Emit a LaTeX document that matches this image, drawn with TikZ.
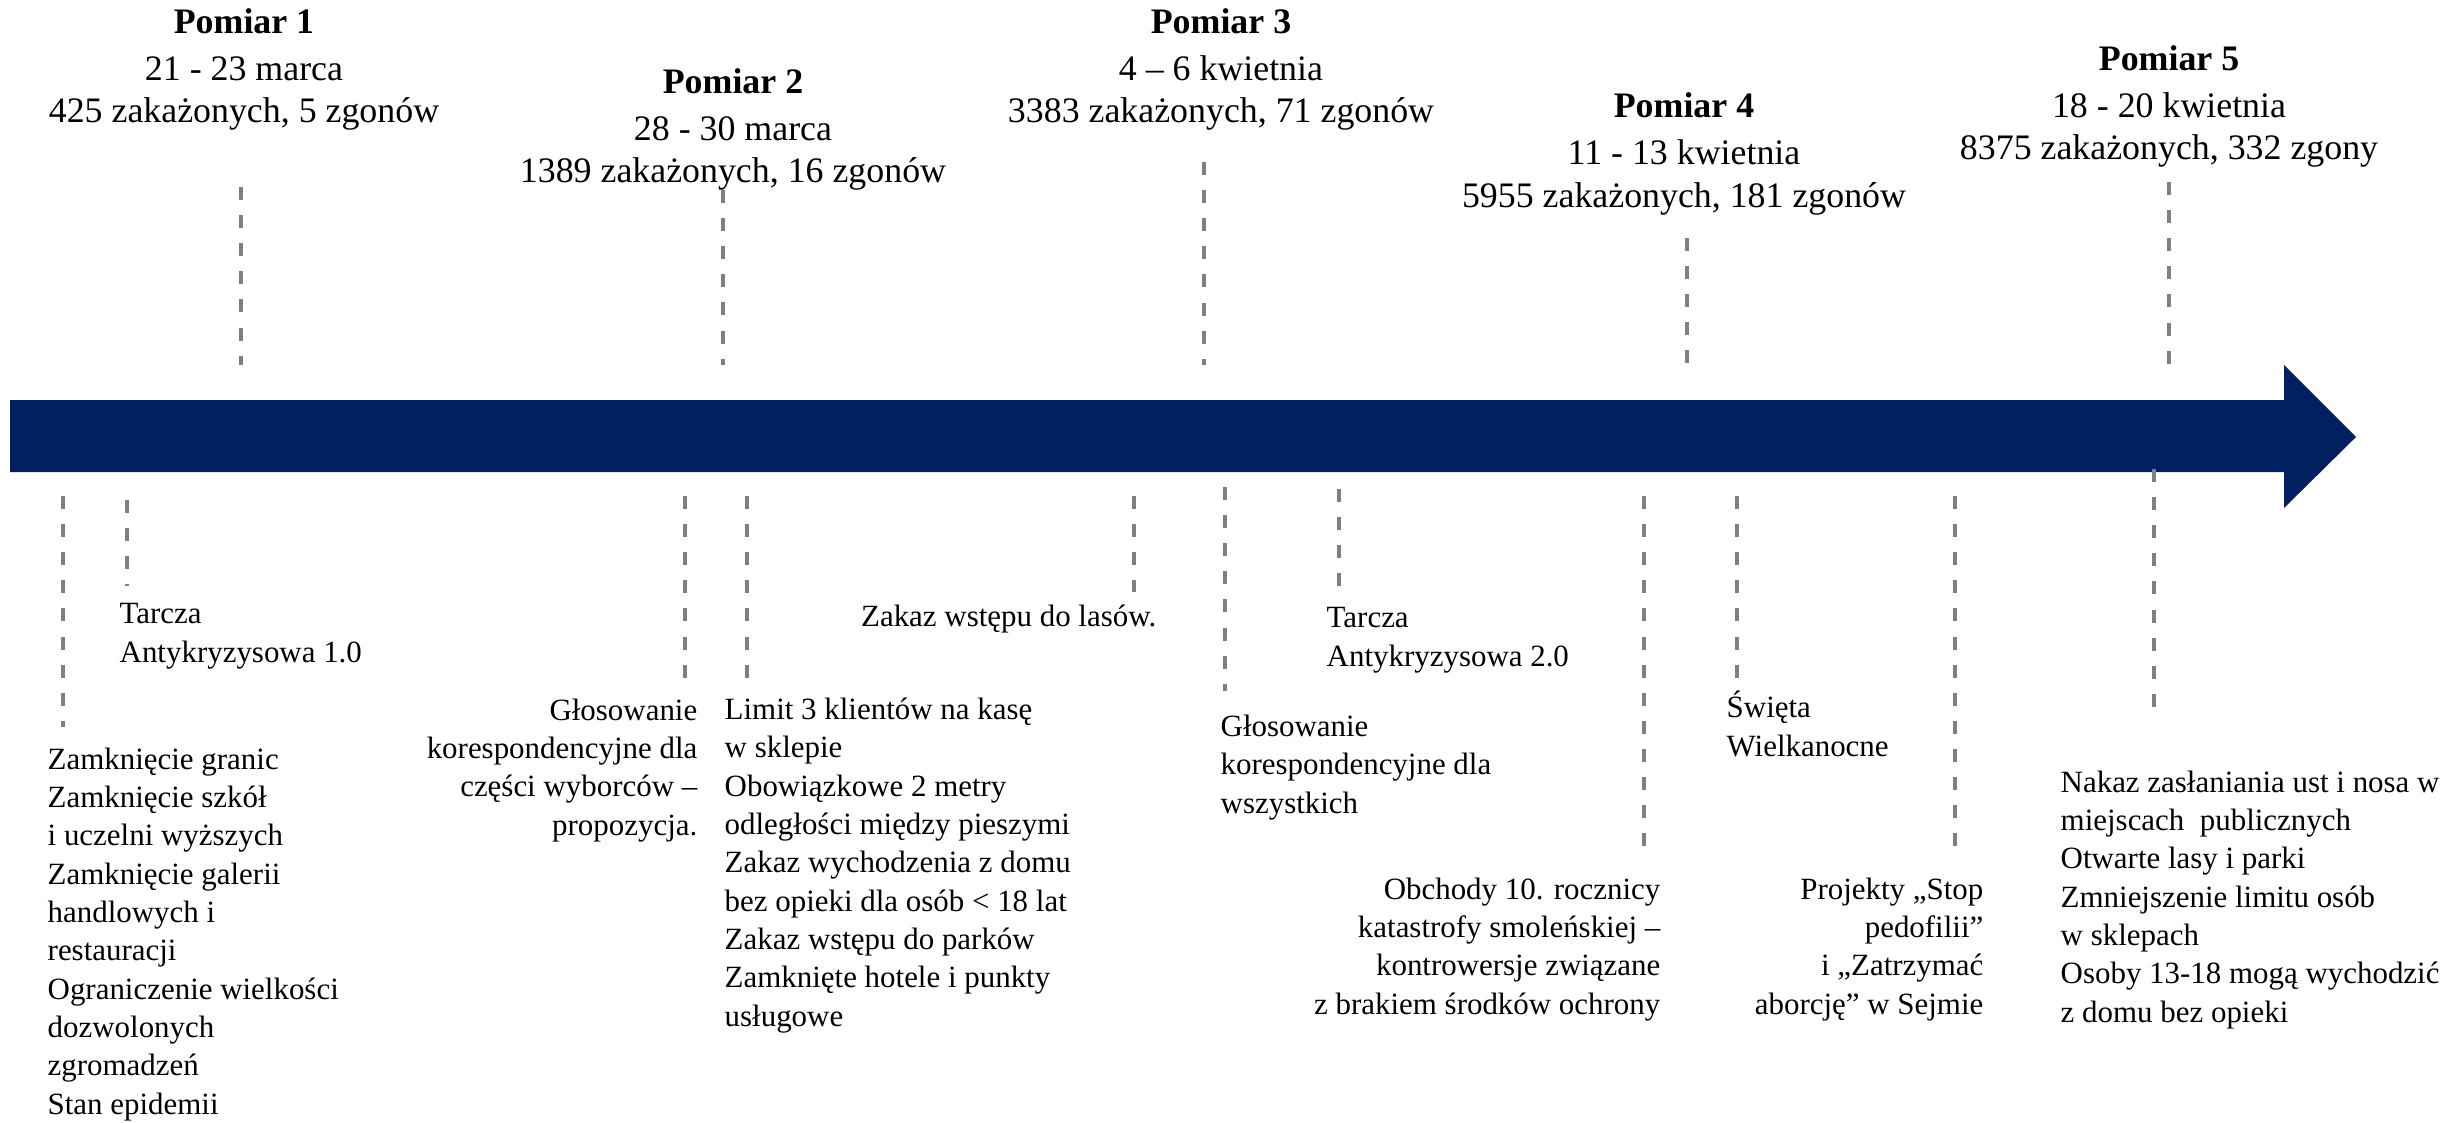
\documentclass[tikz,border=0pt]{standalone}
\usepackage{fontspec}
\setmainfont{Liberation Serif}
\usepackage{tikz}
\definecolor{navy}{HTML}{002060}
\definecolor{guidegray}{HTML}{808080}
\newcommand{\toptxt}{\fontsize{10.2}{12}\selectfont}
\newcommand{\lowtxt}{\fontsize{8.8}{10.9}\selectfont}

\begin{document}
\begin{tikzpicture}[
  x=0.1mm, y=-0.1mm,
  pomiar/.style={align=center, inner sep=0pt, anchor=base, font=\toptxt},
  event/.style={inner sep=0pt, font=\lowtxt},
  guide/.style={draw=guidegray, line width=1.1pt, dash pattern=on 3.7pt off 4.3pt},
]
  \useasboundingbox (0,0) rectangle (2461,1122);

  % Timeline arrow
  \fill[navy] (10,400) -- (2284,400) -- (2284,365) -- (2356,437)
    -- (2284,508) -- (2284,472) -- (10,472) -- cycle;

  % Measurements above the arrow (placed by the baseline of the last line)
  \node[pomiar] (p1) at (244,123)
    {\textbf{Pomiar 1}\\[1.5pt] 21 - 23 marca\\ 425 zakażonych, 5 zgonów};
  \node[pomiar] (p2) at (733,183)
    {\textbf{Pomiar 2}\\[1.5pt] 28 - 30 marca\\ 1389 zakażonych, 16 zgonów};
  \node[pomiar] (p3) at (1221,123)
    {\textbf{Pomiar 3}\\[1.5pt] 4 – 6 kwietnia\\ 3383 zakażonych, 71 zgonów};
  \node[pomiar] (p4) at (1684,207)
    {\textbf{Pomiar 4}\\[1.5pt] 11 - 13 kwietnia\\ 5955 zakażonych, 181 zgonów};
  \node[pomiar] (p5) at (2169,160)
    {\textbf{Pomiar 5}\\[1.5pt] 18 - 20 kwietnia\\ 8375 zakażonych, 332 zgony};

  \coordinate (g1a) at (241,187);  \coordinate (g1b) at (241,365);
  \coordinate (g2a) at (723,190);  \coordinate (g2b) at (723,365);
  \coordinate (g3a) at (1204,162); \coordinate (g3b) at (1204,365);
  \coordinate (g4a) at (1687,238); \coordinate (g4b) at (1687,365);
  \coordinate (g5a) at (2169,182); \coordinate (g5b) at (2169,365);
  \draw[guide] (g1a) -- (g1b);
  \draw[guide] (g2a) -- (g2b);
  \draw[guide] (g3a) -- (g3b);
  \draw[guide] (g4a) -- (g4b);
  \draw[guide] (g5a) -- (g5b);

  % Events below the arrow (placed by the baseline of the last line)
  \node[event, anchor=base west, align=left] (zamk) at (47,1114)
    {Zamknięcie granic\\ Zamknięcie szkół\\ i uczelni wyższych\\
     Zamknięcie galerii\\ handlowych i\\ restauracji\\
     Ograniczenie wielkości\\ dozwolonych\\ zgromadzeń\\ Stan epidemii};
  \node[event, anchor=base west, align=left] (tarcza1) at (119,662)
    {Tarcza\\ Antykryzysowa 1.0};
  \node[event, anchor=base east, align=right] (glos1) at (698,835)
    {Głosowanie\\ korespondencyjne dla\\ części wyborców –\\ propozycja.};
  \node[event, anchor=base west, align=left] (limit) at (724,1026)
    {Limit 3 klientów na kasę\\ w sklepie\\ Obowiązkowe 2 metry\\
     odległości między pieszymi\\ Zakaz wychodzenia z domu\\
     bez opieki dla osób < 18 lat\\ Zakaz wstępu do parków\\
     Zamknięte hotele i punkty\\ usługowe};
  \node[event, anchor=base east] (lasy) at (1157,626) {Zakaz wstępu do lasów.};
  \node[event, anchor=base west, align=left] (glos2) at (1220,813)
    {Głosowanie\\ korespondencyjne dla\\ wszystkich};
  \node[event, anchor=base west, align=left] (tarcza2) at (1326,666)
    {Tarcza\\ Antykryzysowa 2.0};
  \node[event, anchor=base east, align=right] (smolensk) at (1661,1014)
    {Obchody 10. rocznicy\\ katastrofy smoleńskiej –\\
     kontrowersje związane\\ z brakiem środków ochrony};
  \node[event, anchor=base west, align=left] (swieta) at (1726,756)
    {Święta\\ Wielkanocne};
  \node[event, anchor=base east, align=right] (projekty) at (1984,1014)
    {Projekty „Stop\\ pedofilii”\\ i „Zatrzymać\\ aborcję” w Sejmie};
  \node[event, anchor=base west, align=left] (nakaz) at (2060,1022)
    {Nakaz zasłaniania ust i nosa w\\ miejscach\ \ publicznych\\
     Otwarte lasy i parki\\ Zmniejszenie limitu osób\\ w sklepach\\
     Osoby 13-18 mogą wychodzić\\ z domu bez opieki};

  \coordinate (zamka) at (63,496);    \coordinate (zamkb) at (63,727);
  \coordinate (tar1a) at (127,500);   \coordinate (tar1b) at (127,586);
  \coordinate (glo1a) at (685,496);   \coordinate (glo1b) at (685,680);
  \coordinate (lima)  at (747,496);   \coordinate (limb)  at (747,680);
  \coordinate (lasa)  at (1134,496);  \coordinate (lasb)  at (1134,592);
  \coordinate (glo2a) at (1225,487);  \coordinate (glo2b) at (1225,691);
  \coordinate (tar2a) at (1339,489);  \coordinate (tar2b) at (1339,586);
  \coordinate (smoa)  at (1644,496);  \coordinate (smob)  at (1644,856);
  \coordinate (swia)  at (1737,496);  \coordinate (swib)  at (1737,679);
  \coordinate (proa)  at (1955,496);  \coordinate (prob)  at (1955,859);
  \coordinate (naka)  at (2154,469);  \coordinate (nakb)  at (2154,720);
  \draw[guide] (zamka) -- (zamkb);
  \draw[guide] (tar1a) -- (tar1b);
  \draw[guide] (glo1a) -- (glo1b);
  \draw[guide] (lima) -- (limb);
  \draw[guide] (lasa) -- (lasb);
  \draw[guide] (glo2a) -- (glo2b);
  \draw[guide] (tar2a) -- (tar2b);
  \draw[guide] (smoa) -- (smob);
  \draw[guide] (swia) -- (swib);
  \draw[guide] (proa) -- (prob);
  \draw[guide] (naka) -- (nakb);
\end{tikzpicture}
\end{document}
